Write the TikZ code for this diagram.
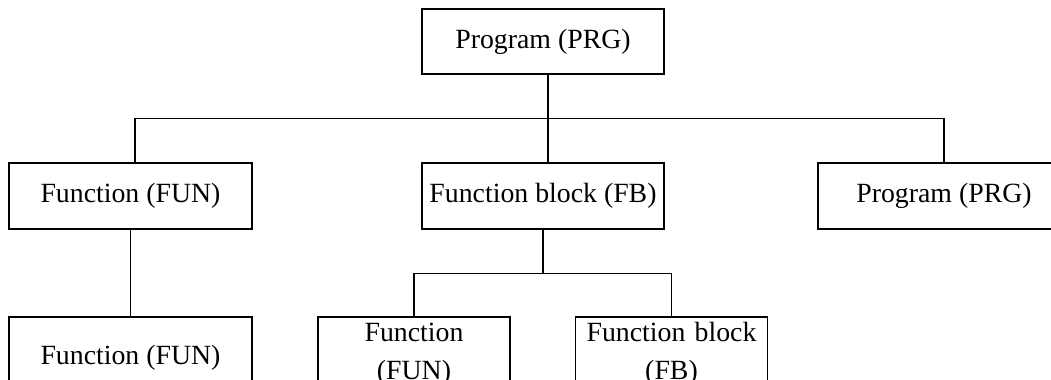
\documentclass[tikz,border=0pt]{standalone}
\usepackage{fontspec}
\setmainfont{Liberation Serif}
\usepackage{tikz}
\usetikzlibrary{positioning, calc}

\tikzset{
  unitbox/.style={draw, line width=0.6pt, inner sep=0pt, minimum height=33pt, align=center, font=\fontsize{13.9}{19}\selectfont},
  wrapbox/.style={unitbox, minimum height=37pt, text width=86pt}
}

\begin{document}
\begin{tikzpicture}[x=0.5pt, y=-0.5pt, line width=0.6pt]
  \path[use as bounding box, clip] (0, 0) rectangle (1051, 380);

  % Top level
  \node[unitbox, minimum width=121pt, minimum height=32.5pt] (prg) at (543, 41.5) {Program (PRG)};

  % Second level
  \node[unitbox, minimum width=121.5pt] (fun) at (130.5, 196) {Function (FUN)};
  \node[unitbox, minimum width=121pt] (fb) at (543, 196) {Function block (FB)};
  \node[unitbox, minimum width=126pt] (prgr) at (944, 196) {Program (PRG)};

  % Third level
  \node[unitbox, minimum width=121.5pt, minimum height=41pt] (funsub) at (130.5, 358) {Function (FUN)};
  \node[wrapbox, minimum width=96pt] (fbfun) at (414, 354) {Function\\(FUN)};
  \node[wrapbox, minimum width=96pt] (fbfb) at (671.5, 354) {Function block\\(FB)};

  % Connectors
  \draw ([xshift=2.5pt]prg.south) -- ++(0, 44) coordinate (j1);
  \draw ([xshift=2.25pt]fun.north) |- (j1) -| (prgr.north);
  \draw ([xshift=2.5pt]fb.north) -- (j1);
  \draw (fun.south) -- (funsub.north);
  \draw (fb.south) -- ++(0, 44) coordinate (j2);
  \draw (fbfun.north) |- (j2) -| (fbfb.north);
\end{tikzpicture}
\end{document}
